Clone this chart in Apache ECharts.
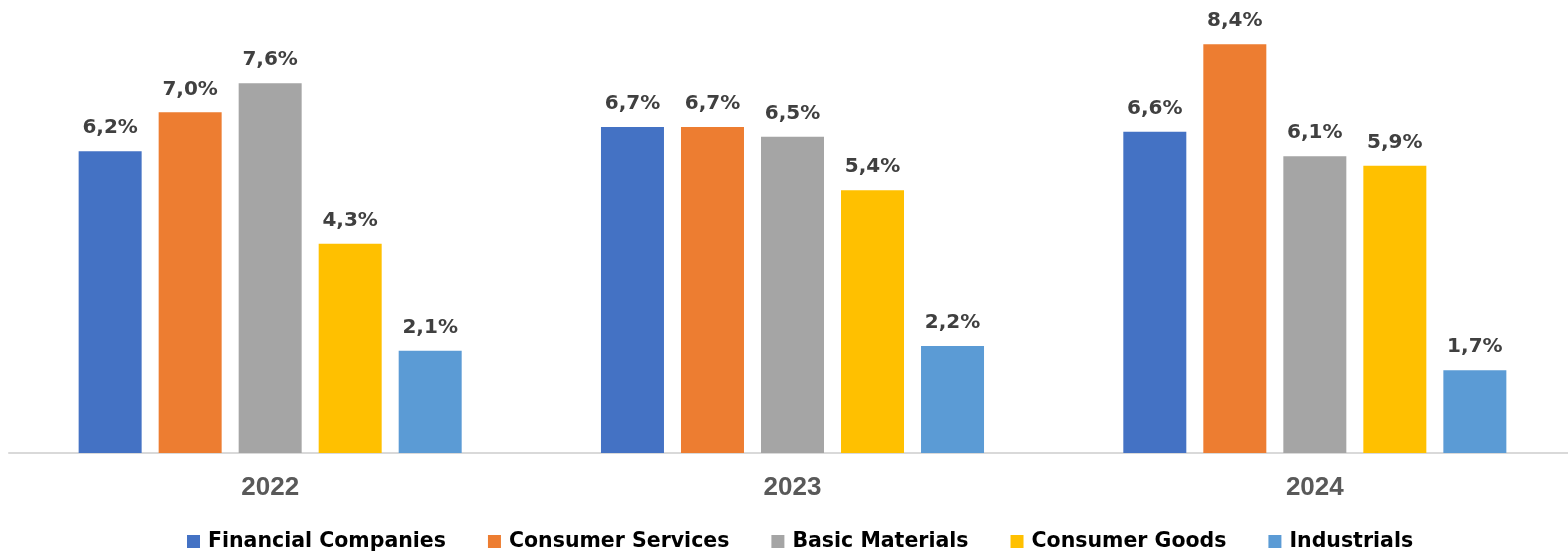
<!DOCTYPE html>
<html>
<head>
<meta charset="utf-8">
<script src="https://cdn.jsdelivr.net/npm/echarts@6/dist/echarts.min.js"></script>
<style>
  html, body { margin: 0; padding: 0; background: #fff; overflow: hidden; }
  #chart { width: 1578px; height: 555px; }
</style>
</head>
<body>
<div id="chart"></div>
<script>
// Years on the x axis
const years = ['2022', '2023', '2024'];

// Sector growth rates, in percent
const financialCompanies = [6.2, 6.7, 6.6];
const consumerServices   = [7.0, 6.7, 8.4];
const basicMaterials     = [7.6, 6.5, 6.1];
const consumerGoods      = [4.3, 5.4, 5.9];
const industrials        = [2.1, 2.2, 1.7];

const sectorNames = ['Financial Companies', 'Consumer Services', 'Basic Materials', 'Consumer Goods', 'Industrials'];
const sectorValues = [financialCompanies, consumerServices, basicMaterials, consumerGoods, industrials];
const sectorColors = ['#4472c4', '#ed7d31', '#a5a5a5', '#ffc000', '#5b9bd5'];

const LABEL_FONT = '"DejaVu Sans", Lato, sans-serif';
const AXIS_FONT = '"Liberation Sans", Arial, sans-serif';

const chart = echarts.init(document.getElementById('chart'), null, { renderer: 'canvas' });

chart.setOption({
  animation: false,
  backgroundColor: '#ffffff',
  grid: { left: 9, right: 2, top: 15, height: 438, containLabel: false },
  legend: {
    top: 526,
    left: 182,
    itemWidth: 13,
    itemHeight: 13,
    itemGap: 42,
    icon: 'rect',
    textStyle: { fontFamily: LABEL_FONT, fontWeight: 'bold', fontSize: 20.5, color: '#000000', padding: [0, 0, 0, 3] },
    data: sectorNames
  },
  xAxis: {
    type: 'category',
    data: years,
    axisLine: { show: true, lineStyle: { color: '#d9d9d9', width: 2 } },
    axisTick: { show: false },
    axisLabel: { fontFamily: AXIS_FONT, fontWeight: 'bold', fontSize: 26, color: '#595959', margin: 22 }
  },
  yAxis: {
    type: 'value',
    min: 0,
    max: 9,
    show: false,
    splitLine: { show: false }
  },
  series: sectorNames.map((name, i) => ({
    name: name,
    type: 'bar',
    data: sectorValues[i],
    barWidth: 63,
    barGap: '27%',
    itemStyle: { color: sectorColors[i] },
    label: {
      show: true,
      position: 'top',
      distance: 13,
      fontFamily: LABEL_FONT,
      fontWeight: 'bold',
      fontSize: 20,
      color: '#404040',
      formatter: p => p.value.toFixed(1).replace('.', ',') + '%'
    }
  }))
});
</script>
</body>
</html>
